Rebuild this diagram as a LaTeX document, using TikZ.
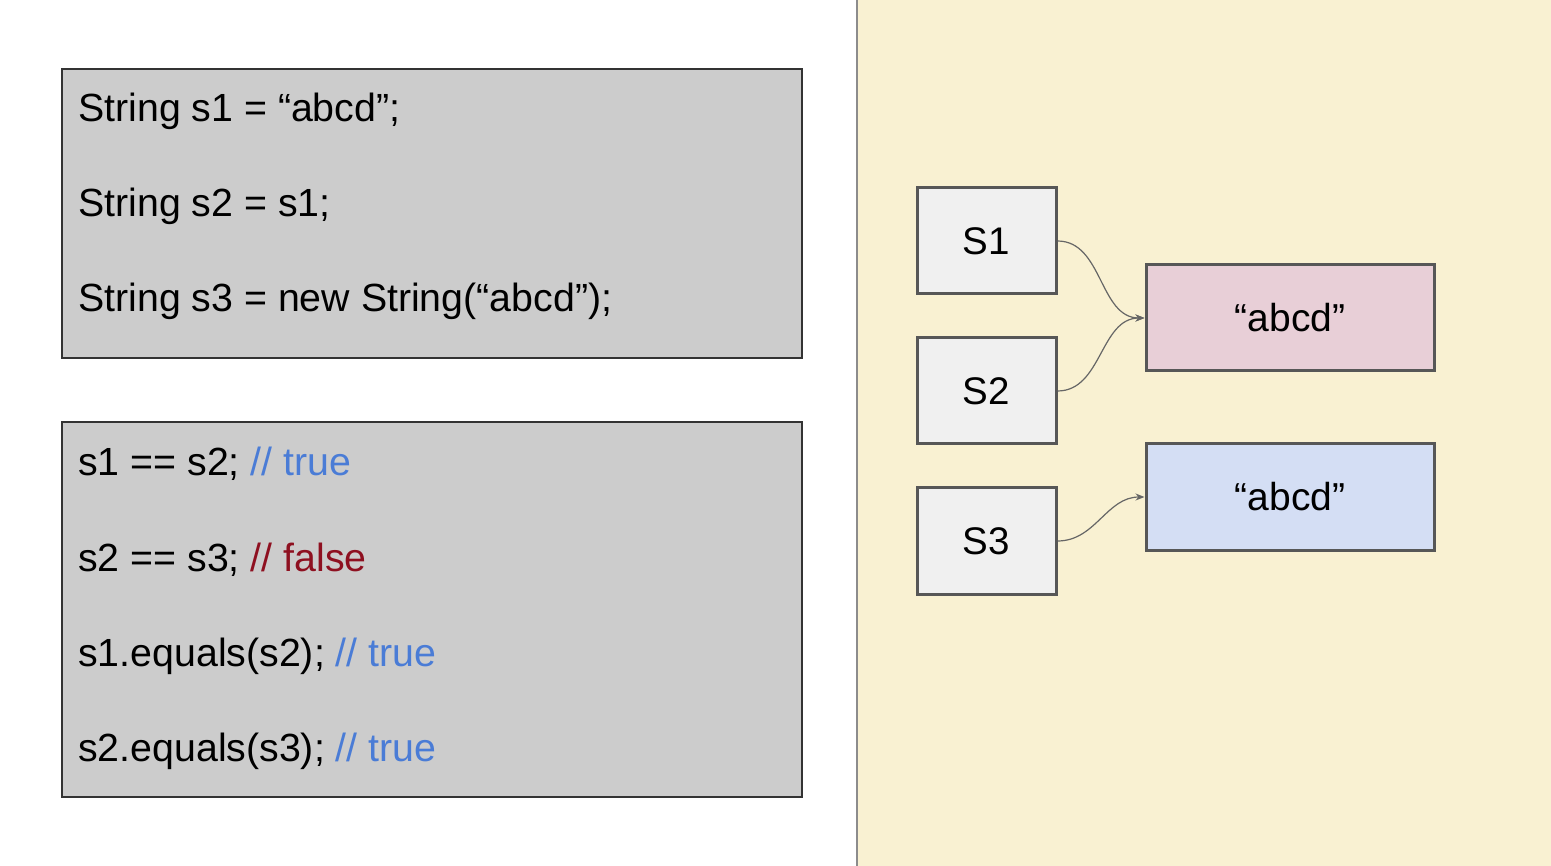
\documentclass[tikz,border=0pt]{standalone}
\usepackage{fontspec}
\setmainfont{Liberation Sans}
\usetikzlibrary{arrows.meta}

\definecolor{cream}{HTML}{F9F1D2}
\definecolor{codegray}{HTML}{CCCCCC}
\definecolor{boxgray}{HTML}{F0F0F0}
\definecolor{rosefill}{HTML}{E8CFD7}
\definecolor{bluefill}{HTML}{D4DEF4}
\definecolor{truecol}{HTML}{4A7CD6}
\definecolor{falsecol}{HTML}{8E1020}

\tikzset{
  codeline/.style={anchor=base west, inner sep=0pt, font=\fontsize{39.3}{46}\selectfont},
  varbox/.style={draw=black!66, line width=3pt, fill=boxgray, minimum width=139pt, minimum height=106pt, inner sep=0pt, font=\fontsize{38.5}{46}\selectfont},
  strbox/.style={draw=black!66, line width=3pt, minimum width=288pt, minimum height=106pt, inner sep=0pt, font=\fontsize{39}{46}\selectfont},
  ref/.style={draw=black!60, line width=1.2pt, -{Stealth[length=9pt,width=7pt]}}
}

\begin{document}
\begin{tikzpicture}[x=1pt,y=-1pt]
  \useasboundingbox (0,0) rectangle (1551,866);
  % panels
  \fill[white] (0,0) rectangle (857,866);
  \fill[cream] (857,0) rectangle (1551,866);
  \draw[black!45, line width=2pt] (857,0) -- (857,866);

  % code boxes
  \draw[fill=codegray, draw=black!80, line width=1.8pt] (62,69) rectangle (802,358);
  \draw[fill=codegray, draw=black!80, line width=1.8pt] (62,422) rectangle (802,797);

  \node[codeline] (l1) at (78,122) {String s1 = “abcd”;};
  \node[codeline] (l2) at (78,217) {String s2 = s1;};
  \node[codeline] (l3) at (78,312) {String s3 = new String(“abcd”);};

  \node[codeline] (c1) at (78,476) {s1 == s2; \textcolor{truecol}{// true}};
  \node[codeline] (c2) at (78,571) {s2 == s3; \textcolor{falsecol}{// false}};
  \node[codeline] (c3) at (78,666) {s1.equals(s2); \textcolor{truecol}{// true}};
  \node[codeline] (c4) at (78,761) {s2.equals(s3); \textcolor{truecol}{// true}};

  % references
  \node[varbox] (s1) at (986.5,241) {S1};
  \node[varbox] (s2) at (986.5,391) {S2};
  \node[varbox] (s3) at (986.5,541) {S3};

  \node[strbox, fill=rosefill] (pool) at (1290,318) {“abcd”};
  \node[strbox, fill=bluefill] (heap) at (1290,497) {“abcd”};

  \draw[ref] (s1.east) to[out=0,in=180] (pool.west);
  \draw[ref] (s2.east) to[out=0,in=180] (pool.west);
  \draw[ref] (s3.east) to[out=0,in=180] (heap.west);
\end{tikzpicture}
\end{document}
